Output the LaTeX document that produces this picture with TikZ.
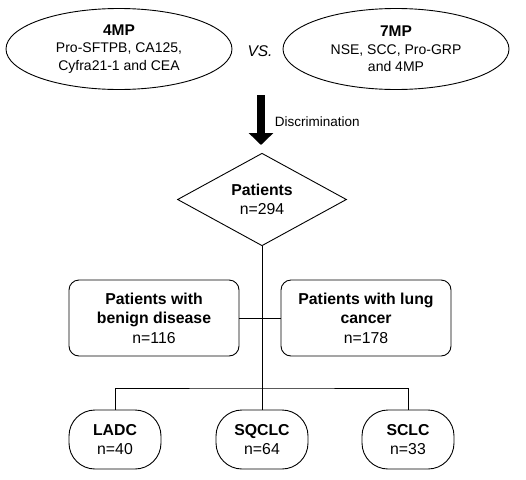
\documentclass[tikz,border=0pt]{standalone}
\usepackage{fontspec}
\setmainfont{Liberation Sans}
\usetikzlibrary{arrows.meta,shapes.geometric}

\begin{document}
\begin{tikzpicture}[x=1pt,y=1pt,line width=0.9pt,
  marker/.style={draw,ellipse,minimum width=226pt,minimum height=81pt,inner sep=0pt,align=center,font=\fontsize{14}{17.5}\selectfont},
  group/.style={draw,rounded corners=10pt,minimum width=170pt,minimum height=76pt,inner sep=0pt,align=center,font=\fontsize{15.8}{19.5}\selectfont},
  subtype/.style={draw,rounded corners=26pt,minimum width=92pt,minimum height=59pt,inner sep=0pt,align=center,font=\fontsize{15.8}{19.5}\selectfont}]
\useasboundingbox (0,0) rectangle (526,-479);
% biomarker panels
\node[marker] (mp4) at (119,-49) {\textbf{\fontsize{15.5}{17.5}\selectfont 4MP}\\Pro-SFTPB, CA125,\\Cyfra21-1 and CEA};
\node[marker] (mp7) at (396,-49) {\textbf{\fontsize{15.5}{17.5}\selectfont 7MP}\\NSE, SCC, Pro-GRP\\and 4MP};
\node[font=\fontsize{15.5}{17}\selectfont\itshape] (vs) at (260,-51) {VS.};
% discrimination arrow
\coordinate (arrtop) at (261,-95);
\coordinate (arrtip) at (261,-145);
\draw[line width=8pt,-{Triangle[length=12pt,width=24pt]}] (arrtop) -- (arrtip);
\node[right,font=\fontsize{13.5}{16}\selectfont] (disc) at (271,-122) {Discrimination};
% patients
\node[draw,diamond,minimum width=169pt,minimum height=75pt,inner sep=0pt,align=center,font=\fontsize{15.8}{19.5}\selectfont] (pat) at (262,-199.5) {\textbf{Patients}\\n=294};
\node[group] (benign) at (154,-318) {\textbf{Patients with}\\\textbf{benign disease}\\n=116};
\node[group] (cancer) at (366,-318) {\textbf{Patients with lung}\\\textbf{cancer}\\n=178};
% subtypes
\node[subtype] (ladc) at (115,-439.5) {\textbf{LADC}\\n=40};
\node[subtype] (sqclc) at (262,-439.5) {\textbf{SQCLC}\\n=64};
\node[subtype] (sclc) at (408,-439.5) {\textbf{SCLC}\\n=33};
\coordinate (split) at (262,-388);
\draw (pat.south) -- (sqclc.north);
\draw (benign.east) -- (cancer.west);
\draw (ladc.north) |- (split) -| (sclc.north);
\end{tikzpicture}
\end{document}
